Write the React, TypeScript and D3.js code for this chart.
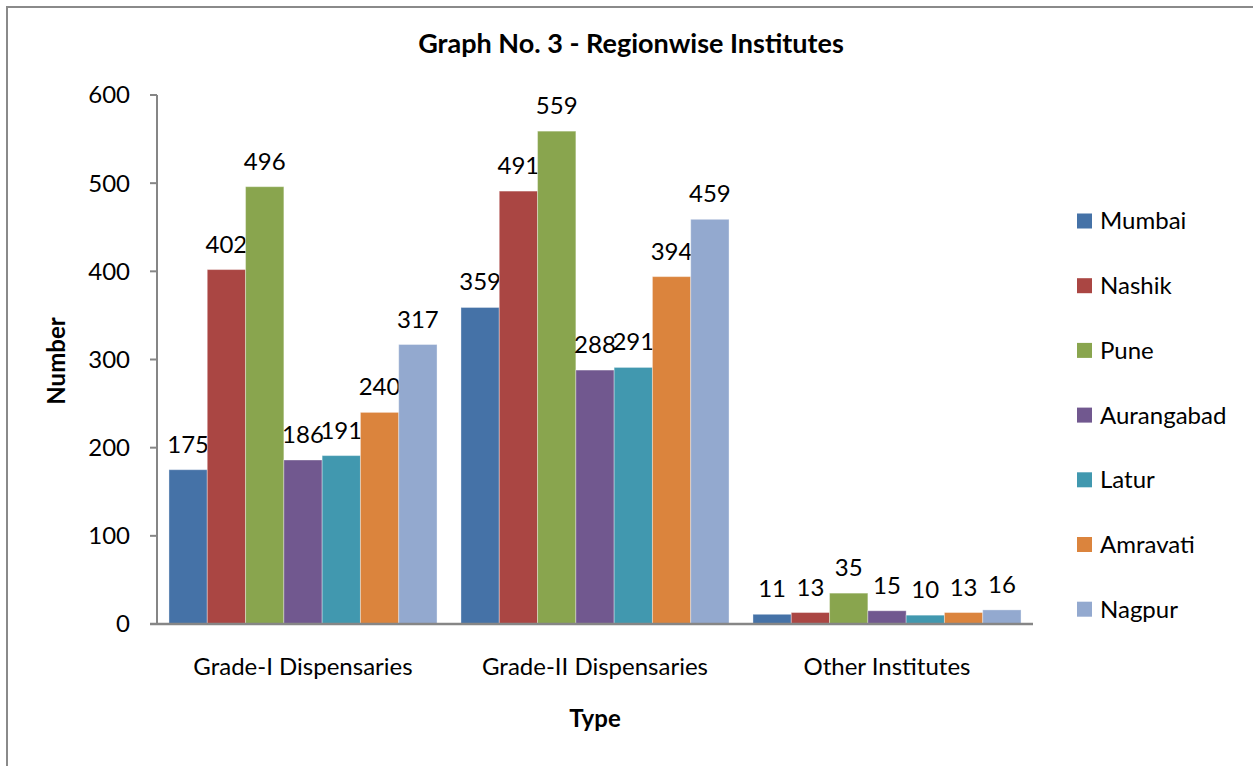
import React from "react";
import * as d3 from "d3";

const categories = ["Grade-I Dispensaries", "Grade-II Dispensaries", "Other Institutes"];
const regions = ["Mumbai", "Nashik", "Pune", "Aurangabad", "Latur", "Amravati", "Nagpur"];
const colors = ["#4572A7", "#AA4643", "#89A54E", "#71588F", "#4198AF", "#DB843D", "#93A9CF"];
const mumbai = [175, 359, 11];
const nashik = [402, 491, 13];
const pune = [496, 559, 35];
const aurangabad = [186, 288, 15];
const latur = [191, 291, 10];
const amravati = [240, 394, 13];
const nagpur = [317, 459, 16];
const seriesValues = [mumbai, nashik, pune, aurangabad, latur, amravati, nagpur];
const yTicks = [0, 100, 200, 300, 400, 500, 600];

const W = 1253;
const H = 766;
const FONT = "Lato, 'Open Sans', sans-serif";
const FS = 24;

export default function App() {
  const left = 157, right = 1033, top = 95, bottom = 624;
  const y = d3.scaleLinear().domain([0, 600]).range([bottom, top]);
  const x0 = d3.scaleBand().domain(categories).range([left, right]).paddingInner(0.082).paddingOuter(0.041);
  const x1 = d3.scaleBand().domain(regions).range([0, x0.bandwidth()]).padding(0);
  const axisColor = "#868686";

  return (
    <svg width={W} height={H} style={{ position: "absolute", left: 0, top: 0, background: "#fff" }}>
      <rect x={7} y={7} width={W + 20} height={H + 20} fill="white" stroke="#8a8a8a" strokeWidth={2} />
      <text x={631} y={53} textAnchor="middle" fontFamily={FONT} fontWeight="bold" fontSize={27}>
        Graph No. 3 - Regionwise Institutes
      </text>
      {/* y axis */}
      <line x1={left} x2={left} y1={top} y2={bottom} stroke={axisColor} strokeWidth={2} />
      {yTicks.map((t) => (
        <g key={t}>
          <line x1={left - 7} x2={left} y1={y(t)} y2={y(t)} stroke={axisColor} strokeWidth={2} />
          <text x={left - 27} y={y(t)} dy="0.35em" textAnchor="end" fontFamily={FONT} fontSize={FS}>
            {t}
          </text>
        </g>
      ))}
      {/* bars */}
      {categories.map((c, ci) => (
        <g key={c} transform={`translate(${x0(c)},0)`}>
          {regions.map((r, ri) => {
            const v = seriesValues[ri][ci];
            const bx = x1(r)!;
            return (
              <g key={r}>
                <rect
                  x={bx}
                  y={y(v)}
                  width={x1.bandwidth()}
                  height={y(0) - y(v)}
                  fill={colors[ri]}
                  stroke="rgba(255,255,255,0.35)"
                  strokeWidth={1}
                />
                <text
                  x={bx + x1.bandwidth() / 2}
                  y={y(v) - 17}
                  textAnchor="middle"
                  fontFamily={FONT}
                  fontSize={FS}
                >
                  {v}
                </text>
              </g>
            );
          })}
        </g>
      ))}
      {/* x axis */}
      <line x1={left - 7} x2={right} y1={bottom} y2={bottom} stroke={axisColor} strokeWidth={2.5} />
      {categories.map((c) => (
        <text key={c} x={x0(c)! + x0.bandwidth() / 2} y={675} textAnchor="middle" fontFamily={FONT} fontSize={FS}>
          {c}
        </text>
      ))}
      <text x={595} y={727} textAnchor="middle" fontFamily={FONT} fontWeight="bold" fontSize={FS}>
        Type
      </text>
      <text
        transform={`translate(65,361) rotate(-90)`}
        textAnchor="middle"
        fontFamily={FONT}
        fontWeight="bold"
        fontSize={FS}
      >
        Number
      </text>
      {/* legend */}
      {regions.map((r, i) => (
        <g key={r} transform={`translate(1077,${221 + i * 64.7})`}>
          <rect x={0} y={-7.5} width={15} height={15} fill={colors[i]} />
          <text x={23} y={0} dy="0.35em" fontFamily={FONT} fontSize={FS}>
            {r}
          </text>
        </g>
      ))}
    </svg>
  );
}
